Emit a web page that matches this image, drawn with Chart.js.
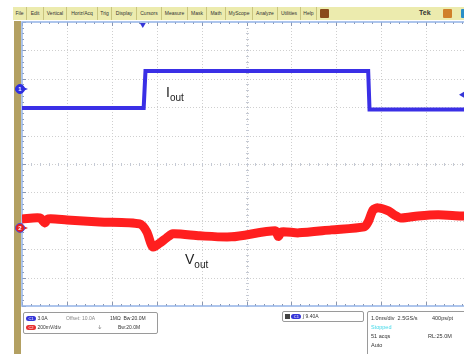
<!DOCTYPE html>
<html>
<head>
  <title>Iout / Vout load step</title>
  <script src="https://cdn.jsdelivr.net/npm/chart.js"></script>
  <style>
    body { margin: 0; width: 464px; height: 354px; overflow: hidden; background: #fff; position: relative;
           font-family: "Liberation Sans", Arial, sans-serif; }
    #wrap { position: absolute; left: 0; top: 0; width: 480px; height: 354px; }
    #menu { position: absolute; left: 13px; top: 7px; width: 451px; height: 13px; background: #ecebae;
            display: flex; font-size: 5px; color: #333; }
    #menu span { border-right: 1px solid #c9c47e; text-align: center; line-height: 13px; box-sizing: border-box; }
    .btn { position: absolute; top: 9px; width: 9px; height: 9px; border-radius: 1px; }
    #gold { position: absolute; left: 14px; top: 21px; width: 7px; height: 333px; background: #b3a062; }
    .box { position: absolute; background: #fff; border: 1px solid #9a9a9a; border-radius: 2px; font-size: 5px; color: #333; }
    .pill { display: inline-block; width: 10px; height: 5px; border-radius: 3px; color: #fff; font-size: 4px;
            text-align: center; line-height: 5px; vertical-align: middle; }
    .row { position: absolute; white-space: nowrap; }
    .lbl { position: absolute; color: #222; font-family: "Liberation Sans", Arial, sans-serif; white-space: nowrap; }
  </style>
</head>
<body>
  <div id="gold"></div>
  <div id="wrap"><canvas id="scope" width="480" height="354"></canvas></div>

  <div id="menu">
    <span style="width:14px">File</span><span style="width:17px">Edit</span><span style="width:23px">Vertical</span>
    <span style="width:31px">Horiz/Acq</span><span style="width:14px">Trig</span><span style="width:25px">Display</span>
    <span style="width:25px">Cursors</span><span style="width:26px">Measure</span><span style="width:19px">Mask</span>
    <span style="width:19px">Math</span><span style="width:27px">MyScope</span><span style="width:25px">Analyze</span>
    <span style="width:23px">Utilities</span><span style="width:16px">Help</span>
  </div>
  <div class="btn" style="left:320px;background:#8a4a1c"></div>
  <div class="lbl" style="left:419px;top:9px;font-size:7px;font-weight:bold;color:#333">Tek</div>
  <div class="btn" style="left:443px;background:#d0802a"></div>
  <div class="btn" style="left:461px;background:#2a8ec8"></div>

  <div class="lbl" style="left:166px;top:84px;font-size:14px">I<span style="font-size:10px;position:relative;top:4px">out</span></div>
  <div class="lbl" style="left:185px;top:251px;font-size:14px">V<span style="font-size:10px;position:relative;top:4px">out</span></div>

  <div class="box" style="left:23px;top:312px;width:133px;height:20px">
    <div class="row" style="left:2px;top:2px"><span class="pill" style="background:#3535d8">C1</span> 3.0A</div>
    <div class="row" style="left:42px;top:2px;color:#888">Offset: 10.0A</div>
    <div class="row" style="left:86px;top:2px">1MΩ &nbsp;Bw:20.0M</div>
    <div class="row" style="left:2px;top:11px"><span class="pill" style="background:#e83030">C2</span> 200mV/div</div>
    <div class="row" style="left:74px;top:11px">⏚</div>
    <div class="row" style="left:94px;top:11px">Bw:20.0M</div>
  </div>
  <div class="box" style="left:282px;top:311px;width:80px;height:9px">
    <div class="row" style="left:2px;top:1px"><span style="display:inline-block;width:5px;height:5px;background:#444;vertical-align:middle"></span>
      <span class="pill" style="background:#3535d8">C1</span> ∫ 9.40A</div>
  </div>
  <div class="box" style="left:367px;top:311px;width:100px;height:45px;font-size:5.5px">
    <div class="row" style="left:3px;top:3px">1.0ms/div &nbsp;2.5GS/s</div>
    <div class="row" style="left:64px;top:3px">400ps/pt</div>
    <div class="row" style="left:3px;top:12px;color:#40d8e8">Stopped</div>
    <div class="row" style="left:3px;top:21px">51 acqs</div>
    <div class="row" style="left:60px;top:21px">RL:25.0M</div>
    <div class="row" style="left:3px;top:30px">Auto</div>
  </div>

  <script>
    // Channel 1: load current (A), channel 2: output voltage ripple (mV), time in ms
    const ioutTime = [0, 2.71, 2.75, 7.71, 7.74, 10];
    const ioutAmps = [8.0, 8.0, 11.9, 11.9, 7.85, 7.85];

    const voutTime = [0, 0.40, 0.51, 0.58, 1.0, 1.73, 2.62, 2.78, 2.91, 3.07, 3.22, 3.36, 3.96, 4.67,
                      5.64, 5.71, 5.78, 6.16, 6.89, 7.62, 7.71, 7.82, 7.93, 8.16, 8.29, 8.44, 8.82, 9.27, 9.78, 10];
    const voutMv = [63, 70, 35, 63, 56, 42, 28, -28, -134, -106, -70, -42, -56, -63,
                    -20, -60, -28, -35, -14, 7, 42, 127, 141, 120, 92, 70, 84, 92, 84, 84];

    // scope settings
    const ch1PerDiv = 3.0, ch1Offset = 10.0, ch1Pos = 2.64;   // A/div, A, div above centre
    const ch2PerDiv = 200, ch2Pos = -2.25;                    // mV/div, div above centre
    const triggerTime = 2.69, triggerLevel = 9.40;

    const toPoints = (xs, ys) => xs.map((x, i) => ({ x: x, y: ys[i] }));

    const graticule = {
      id: 'graticule',
      beforeDatasetsDraw(chart) {
        const { ctx, chartArea: a } = chart;
        const sx = chart.scales.x, sd = chart.scales.ydiv;
        ctx.save();
        ctx.fillStyle = '#fff';
        ctx.fillRect(a.left, a.top, a.right - a.left, a.bottom - a.top);
        ctx.strokeStyle = '#cfcfcf';
        ctx.lineWidth = 1;
        ctx.setLineDash([1, 2]);
        for (let i = 1; i < 10; i++) {
          const px = Math.round(sx.getPixelForValue(i)) + 0.5;
          ctx.beginPath(); ctx.moveTo(px, a.top); ctx.lineTo(px, a.bottom); ctx.stroke();
        }
        for (let i = -4; i <= 4; i++) {
          const py = Math.round(sd.getPixelForValue(i)) + 0.5;
          ctx.beginPath(); ctx.moveTo(a.left, py); ctx.lineTo(a.right, py); ctx.stroke();
        }
        ctx.setLineDash([]);
        // minor ticks on borders and centre lines
        const cx = Math.round(sx.getPixelForValue(5)) + 0.5, cy = Math.round(sd.getPixelForValue(0)) + 0.5;
        for (let i = 0; i <= 50; i++) {
          const px = Math.round(sx.getPixelForValue(i / 5)) + 0.5;
          const len = i % 5 === 0 ? 4 : 2;
          ctx.strokeStyle = '#8a97b0';
          ctx.beginPath();
          ctx.moveTo(px, a.top); ctx.lineTo(px, a.top + len);
          ctx.moveTo(px, a.bottom); ctx.lineTo(px, a.bottom - len);
          ctx.stroke();
          ctx.strokeStyle = '#c4c9d4';
          ctx.beginPath(); ctx.moveTo(px, cy - 1.5); ctx.lineTo(px, cy + 1.5); ctx.stroke();
        }
        for (let i = -25; i <= 25; i++) {
          const py = Math.round(sd.getPixelForValue(i / 5)) + 0.5;
          const len = i % 5 === 0 ? 4 : 2;
          ctx.strokeStyle = '#8a97b0';
          ctx.beginPath();
          ctx.moveTo(a.left, py); ctx.lineTo(a.left + len, py);
          ctx.moveTo(a.right, py); ctx.lineTo(a.right - len, py);
          ctx.stroke();
          ctx.strokeStyle = '#c4c9d4';
          ctx.beginPath(); ctx.moveTo(cx - 1.5, py); ctx.lineTo(cx + 1.5, py); ctx.stroke();
        }
        ctx.strokeStyle = '#93b2e6';
        ctx.lineWidth = 1.5;
        ctx.strokeRect(a.left, a.top, a.right - a.left, a.bottom - a.top);
        ctx.restore();
      },
      afterDatasetsDraw(chart) {
        const { ctx, chartArea: a } = chart;
        const s1 = chart.scales.y, s2 = chart.scales.y2, sx = chart.scales.x;
        ctx.save();
        const marker = (y, fill, stroke, label) => {
          const x = a.left - 2;
          ctx.fillStyle = fill;
          ctx.beginPath(); ctx.moveTo(x + 3, y - 2); ctx.lineTo(x + 8, y); ctx.lineTo(x + 3, y + 2); ctx.fill();
          ctx.beginPath(); ctx.arc(x, y, 4.5, 0, Math.PI * 2); ctx.fill();
          ctx.strokeStyle = stroke; ctx.lineWidth = 1; ctx.stroke();
          ctx.fillStyle = '#fff'; ctx.font = 'bold 6px "Liberation Sans"';
          ctx.textAlign = 'center'; ctx.textBaseline = 'middle';
          ctx.fillText(label, x, y + 0.5);
        };
        marker(s1.getPixelForValue(ch1Offset), '#2f2fe0', '#2f2fe0', '1');
        marker(s2.getPixelForValue(0), '#e82020', '#4a4ad8', '2');
        // trigger position and level
        const tx = sx.getPixelForValue(triggerTime);
        ctx.fillStyle = '#3535d8';
        ctx.beginPath(); ctx.moveTo(tx - 3, a.top + 1); ctx.lineTo(tx + 3, a.top + 1); ctx.lineTo(tx, a.top + 6); ctx.fill();
        const ty = s1.getPixelForValue(triggerLevel);
        ctx.beginPath(); ctx.moveTo(a.right - 12, ty); ctx.lineTo(a.right - 7, ty - 3); ctx.lineTo(a.right - 7, ty + 3); ctx.fill();
        ctx.restore();
      }
    };

    new Chart(document.getElementById('scope').getContext('2d'), {
      type: 'line',
      data: {
        datasets: [{
          label: 'Iout',
          data: toPoints(ioutTime, ioutAmps),
          yAxisID: 'y',
          borderColor: '#3a2fe6',
          borderWidth: 4,
          pointRadius: 0,
          tension: 0,
        }, {
          label: 'Vout',
          data: toPoints(voutTime, voutMv),
          yAxisID: 'y2',
          borderColor: '#ff1f1f',
          borderWidth: 9,
          pointRadius: 0,
          tension: 0.25,
        }],
      },
      options: {
        responsive: false,
        animation: false,
        devicePixelRatio: 1,
        layout: { padding: { left: 22, top: 22, right: 9, bottom: 48 } },
        plugins: { legend: { display: false }, tooltip: { enabled: false } },
        scales: {
          x: { type: 'linear', min: 0, max: 10, display: false },
          y: { type: 'linear', min: ch1Offset - (5 + ch1Pos) * ch1PerDiv, max: ch1Offset + (5 - ch1Pos) * ch1PerDiv, display: false },
          y2: { type: 'linear', axis: 'y', min: -(5 + ch2Pos) * ch2PerDiv, max: (5 - ch2Pos) * ch2PerDiv, display: false },
          ydiv: { type: 'linear', axis: 'y', min: -5, max: 5, display: false },
        },
      },
      plugins: [graticule],
    });
  </script>
</body>
</html>
